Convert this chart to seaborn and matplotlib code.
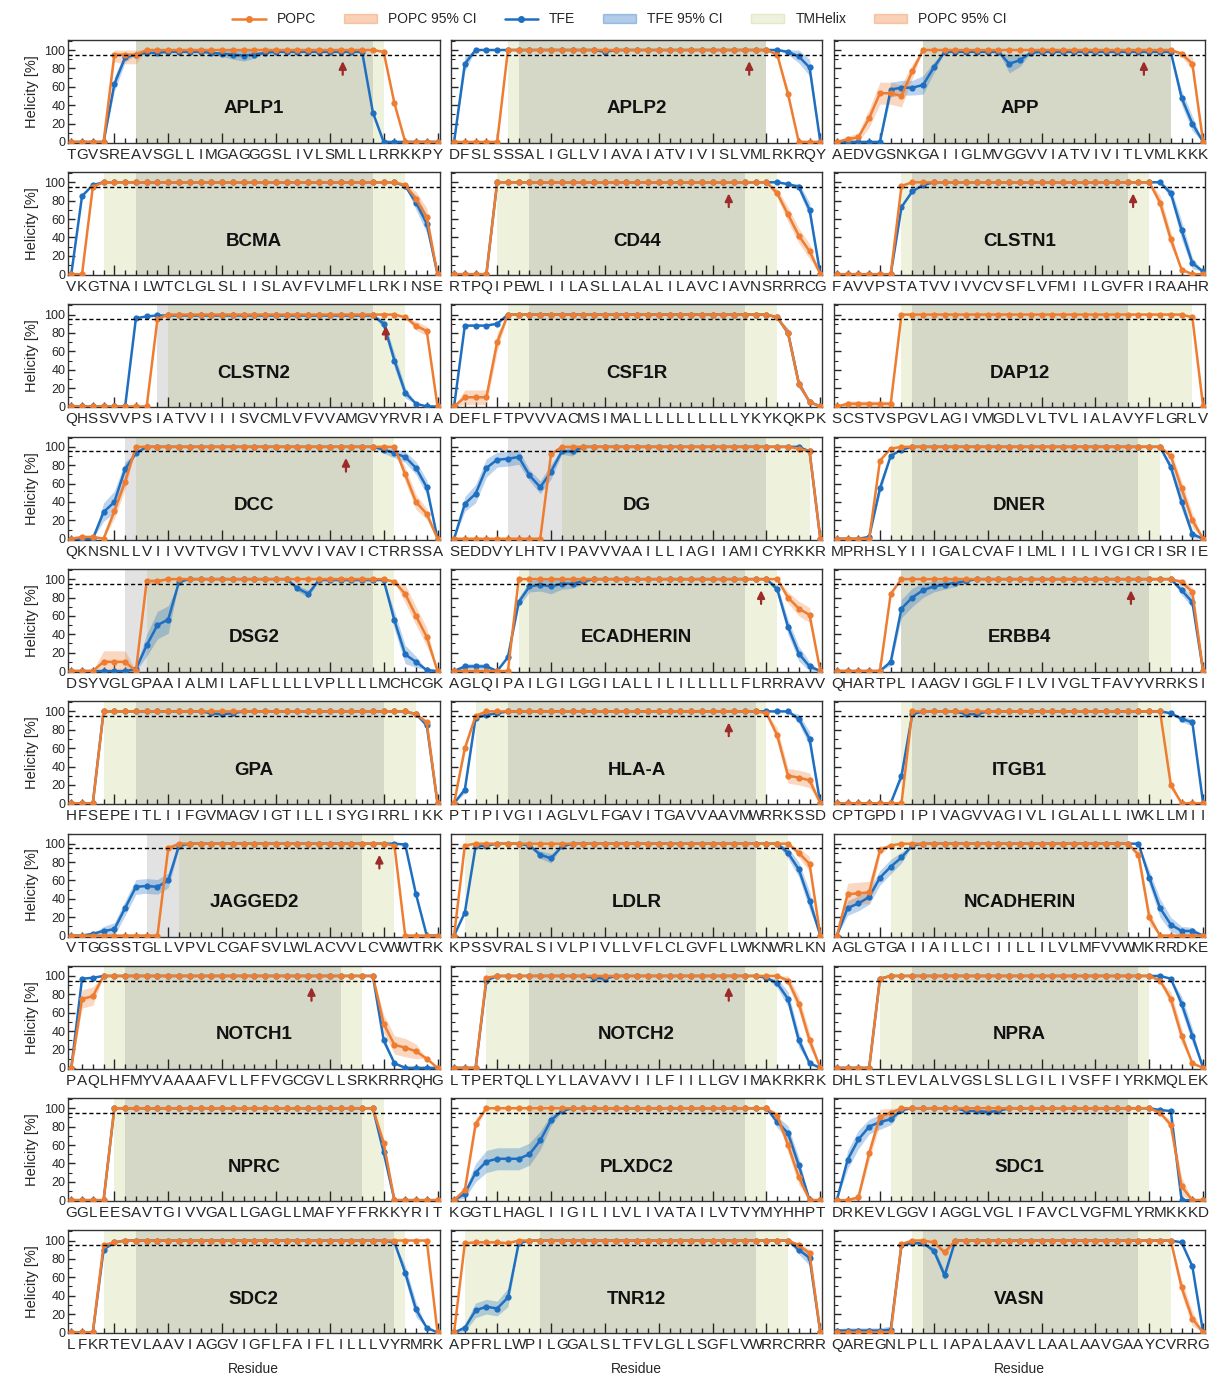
import matplotlib
matplotlib.use('Agg')
import matplotlib.pyplot as plt
from matplotlib.lines import Line2D
from matplotlib.patches import Patch
from matplotlib.ticker import MultipleLocator
import numpy as np
import pandas as pd
import seaborn as sns

# ---- data (one entry per residue) ----
NAMES = ['APLP1', 'APLP2', 'APP', 'BCMA', 'CD44', 'CLSTN1', 'CLSTN2', 'CSF1R', 'DAP12',
         'DCC', 'DG', 'DNER', 'DSG2', 'ECADHERIN', 'ERBB4', 'GPA', 'HLA-A', 'ITGB1',
         'JAGGED2', 'LDLR', 'NCADHERIN', 'NOTCH1', 'NOTCH2', 'NPRA', 'NPRC', 'PLXDC2',
         'SDC1', 'SDC2', 'TNR12', 'VASN']

SEQ = {
    'APLP1': 'TGVSREAVSGLLIMGAGGGSLIVLSMLLLRRKKPY',
    'APLP2': 'DFSLSSSALIGLLVIAVAIATVIVISLVMLRKRQY',
    'APP': 'AEDVGSNKGAIIGLMVGGVVIATVIVITLVMLKKK',
    'BCMA': 'VKGTNAILWTCLGLSLIISLAVFVLMFLLRKINSE',
    'CD44': 'RTPQIPEWLIILASLLALALILAVCIAVNSRRRCG',
    'CLSTN1': 'FAVVPSTATVVIVVCVSFLVFMIILGVFRIRAAHR',
    'CLSTN2': 'QHSSVVPSIATVVIIISVCMLVFVVAMGVYRVRIA',
    'CSF1R': 'DEFLFTPVVVACMSIMALLLLLLLLLLYKYKQKPK',
    'DAP12': 'SCSTVSPGVLAGIVMGDLVLTVLIALAVYFLGRLV',
    'DCC': 'QKNSNLLVIIVVTVGVITVLVVVIVAVICTRRSSA',
    'DG': 'SEDDVYLHTVIPAVVVAAILLIAGIIAMICYRKKR',
    'DNER': 'MPRHSLYIIIGALCVAFILMLIILIVGICRISRIE',
    'DSG2': 'DSYVGLGPAAIALMILAFLLLLLVPLLLLMCHCGK',
    'ECADHERIN': 'AGLQIPAILGILGGILALLILILLLLLFLRRRAVV',
    'ERBB4': 'QHARTPLIAAGVIGGLFILVIVGLTFAVYVRRKSI',
    'GPA': 'HFSEPEITLIIFGVMAGVIGTILLISYGIRRLIKK',
    'HLA-A': 'PTIPIVGIIAGLVLFGAVITGAVVAAVMWRRKSSD',
    'ITGB1': 'CPTGPDIIPIVAGVVAGIVLIGLALLLIWKLLMII',
    'JAGGED2': 'VTGGSSTGLLVPVLCGAFSVLWLACVVLCVWWTRK',
    'LDLR': 'KPSSVRALSIVLPIVLLVFLCLGVFLLWKNWRLKN',
    'NCADHERIN': 'AGLGTGAIIAILLCIIILLILVLMFVVWMKRRDKE',
    'NOTCH1': 'PAQLHFMYVAAAAFVLLFFVGCGVLLSRKRRRQHG',
    'NOTCH2': 'LTPERTQLLYLLAVAVVIILFIILLGVIMAKRKRK',
    'NPRA': 'DHLSTLEVLALVGSLSLLGILIVSFFIYRKMQLEK',
    'NPRC': 'GGLEESAVTGIVVGALLGAGLLMAFYFFRKKYRIT',
    'PLXDC2': 'KGGTLHAGLIIGILILVLIVATAILVTVYMYHHPT',
    'SDC1': 'DRKEVLGGVIAGGLVGLIFAVCLVGFMLYRMKKKD',
    'SDC2': 'LFKRTEVLAAVIAGGVIGFLFAIFLILLLVYRMRK',
    'TNR12': 'APFRLLWPILGGALSLTFVLGLLSGFLVWRRCRRR',
    'VASN': 'QAREGNLPLLIAPALAAVLLAALAAVGAAYCVRRG',
}

POPC = {
    'APLP1': [0, 0, 0, 0, 95, 95, 95] + [100] * 22 + [98, 42, 0, 0, 0, 0],
    'APLP2': [0] * 5 + [100] * 25 + [95, 52, 0, 0, 0],
    'APP': [0, 3, 5, 26, 53, 53, 50, 77] + [100] * 24 + [96, 85, 0],
    'BCMA': [0, 0, 95] + [100] * 28 + [97, 82, 62, 0],
    'CD44': [0] * 4 + [100] * 26 + [88, 65, 42, 25, 0],
    'CLSTN1': [0] * 6 + [96] + [100] * 23 + [78, 38, 5, 0, 0],
    'CLSTN2': [0] * 8 + [95] + [100] * 22 + [97, 88, 82, 0],
    'CSF1R': [0, 10, 10, 10, 70] + [100] * 25 + [97, 80, 25, 5, 0],
    'DAP12': [0, 3, 3, 3, 3, 3] + [100] * 27 + [97, 0],
    'DCC': [0, 2, 2, 0, 30, 62] + [100] * 25 + [70, 40, 27, 0],
    'DG': [0] * 9 + [92] + [100] * 22 + [98, 95, 0],
    'DNER': [0, 0, 0, 0, 85, 98] + [100] * 25 + [90, 55, 20, 0],
    'DSG2': [0, 0, 0, 10, 10, 10, 0, 98, 98] + [100] * 21 + [97, 84, 60, 37, 0],
    'ECADHERIN': [0] * 6 + [100] * 25 + [80, 68, 61, 0],
    'ERBB4': [0] * 5 + [84] + [100] * 26 + [97, 86, 0],
    'GPA': [0, 0, 0] + [100] * 29 + [97, 88, 0],
    'HLA-A': [0, 60, 95] + [100] * 26 + [98, 74, 30, 28, 25, 0],
    'ITGB1': [0] * 7 + [100] * 24 + [20, 0, 0, 0],
    'JAGGED2': [0] * 9 + [95] + [100] * 20 + [98, 0, 0, 0, 0],
    'LDLR': [0, 98] + [100] * 29 + [100, 90, 78, 0],
    'NCADHERIN': [0, 45, 46, 47, 93, 98] + [100] * 22 + [88, 20, 0, 0, 0, 0, 0],
    'NOTCH1': [0, 75, 78] + [100] * 26 + [48, 25, 22, 18, 10, 0],
    'NOTCH2': [0, 0, 0, 98] + [100] * 27 + [95, 70, 30, 0],
    'NPRA': [0] * 4 + [97] + [100] * 25 + [95, 75, 35, 5, 0],
    'NPRC': [0] * 4 + [100] * 25 + [62, 0, 0, 0, 0, 0],
    'PLXDC2': [0, 11, 83] + [100] * 27 + [92, 60, 25, 0, 0],
    'SDC1': [0, 0, 3, 51, 91, 95] + [100] * 24 + [95, 82, 15, 0, 0],
    'SDC2': [0, 0, 0, 95, 98] + [100] * 29 + [0],
    'TNR12': [0, 97, 98, 98, 98, 97] + [100] * 26 + [95, 86, 0],
    'VASN': [0] * 6 + [96, 100, 100, 98, 87] + [100] * 20 + [100, 49, 15, 0],
}

TFE = {
    'APLP1': [0] * 4 + [63, 92, 95] + [97, 97, 98, 98, 98, 98, 97, 96, 95, 94, 95, 97] + [98] * 9 + [32] + [0] * 6,
    'APLP2': [0, 85] + [100] * 12 + [98] + [100] * 16 + [98, 93, 81, 0],
    'APP': [0] * 5 + [57, 59, 59, 62, 81, 98] + [98] * 5 + [85, 89, 97] + [98] * 13 + [48, 20, 0],
    'BCMA': [0, 85, 97] + [100] * 28 + [96, 78, 55, 0],
    'CD44': [0] * 4 + [100] * 27 + [98, 95, 70, 0],
    'CLSTN1': [0] * 6 + [73, 90, 97] + [100] * 22 + [88, 48, 12, 3],
    'CLSTN2': [0] * 6 + [96, 98] + [99] * 21 + [90, 50, 15, 3, 0, 0],
    'CSF1R': [0, 88, 88, 88, 90] + [100] * 25 + [97, 80, 25, 5, 0],
    'DAP12': None,
    'DCC': [0, 0, 0, 29, 40, 76, 93] + [100] * 22 + [97, 93, 89, 77, 56, 0],
    'DG': [0, 38, 49, 77, 86, 87, 89, 69, 56, 73, 95, 95] + [100] * 20 + [100, 95, 0],
    'DNER': [0, 0, 0, 2, 55, 90, 97] + [100] * 24 + [78, 40, 5, 0],
    'DSG2': [0, 0, 0, 0, 0, 0, 2, 28, 50, 56, 97] + [100] * 10 + [90, 84] + [99] * 7 + [55, 18, 10, 1, 0],
    'ECADHERIN': [0, 5, 5, 5, 0, 15, 75, 92, 94, 92, 95, 95, 98] + [100] * 17 + [89, 48, 19, 5, 0],
    'ERBB4': [0] * 5 + [10, 68, 80, 88, 92, 94, 96, 98] + [100] * 19 + [88, 75, 0],
    'GPA': [0, 0, 0] + [100] * 10 + [98, 97, 98] + [100] * 16 + [97, 85, 0],
    'HLA-A': [0, 15, 93, 96, 98] + [100] * 27 + [92, 70, 0],
    'ITGB1': [0] * 6 + [30, 97] + [100] * 4 + [97, 97] + [100] * 17 + [98, 92, 88, 0],
    'JAGGED2': [0, 0, 2, 5, 7, 30, 53, 54, 53, 60, 98] + [100] * 20 + [99, 45, 0, 0],
    'LDLR': [0, 25, 97, 98, 100, 100, 100, 98, 88, 84, 97] + [100] * 20 + [90, 72, 38, 0],
    'NCADHERIN': [0, 30, 35, 42, 63, 75, 85, 98] + [100] * 21 + [63, 30, 12, 5, 5, 0],
    'NOTCH1': [0, 97, 98] + [100] * 26 + [30, 5, 0, 0, 0, 0],
    'NOTCH2': [0, 0, 0, 95] + [100] * 9 + [98, 97] + [100] * 14 + [98, 92, 75, 30, 5, 0],
    'NPRA': [0] * 4 + [97] + [100] * 26 + [97, 70, 35, 0],
    'NPRC': [0] * 4 + [100] * 25 + [52, 0, 0, 0, 0, 0],
    'PLXDC2': [0, 7, 30, 42, 45, 45, 45, 50, 65, 87, 97] + [100] * 19 + [85, 73, 38, 0, 0],
    'SDC1': [0, 44, 66, 80, 85, 88, 98] + [100] * 5 + [97, 97, 96, 97] + [100] * 14 + [98, 97, 0, 0, 0],
    'SDC2': [0, 0, 0, 90, 98] + [100] * 25 + [98, 65, 25, 5, 0],
    'TNR12': [0, 5, 24, 28, 26, 38, 97] + [100] * 25 + [90, 81, 0],
    'VASN': [2, 2, 2, 2, 2, 3, 95, 97, 97, 89, 62] + [100] * 21 + [98, 72, 0],
}

# 95% CI half widths (residue index: half width), zero elsewhere
POPC_CI = {
    'APLP1': {4: 8, 5: 10, 6: 10}, 'APLP2': {31: 6},
    'APP': {1: 3, 2: 5, 3: 10, 4: 12, 5: 12, 6: 12, 7: 8, 32: 3, 33: 7},
    'BCMA': {32: 8, 33: 10}, 'CD44': {30: 5, 31: 8, 32: 8, 33: 8}, 'CLSTN1': {30: 8, 31: 8},
    'CLSTN2': {32: 5, 33: 5}, 'CSF1R': {1: 8, 2: 8, 3: 8, 4: 10, 31: 5, 32: 5},
    'DAP12': {1: 3, 2: 3, 3: 3, 4: 3, 5: 3}, 'DCC': {4: 8, 5: 8, 31: 8, 32: 8, 33: 6},
    'DG': {}, 'DNER': {31: 5, 32: 8, 33: 8},
    'DSG2': {3: 12, 4: 12, 5: 12, 7: 3, 8: 3, 31: 10, 32: 10, 33: 10},
    'ECADHERIN': {31: 6, 32: 8, 33: 8}, 'ERBB4': {32: 3, 33: 5}, 'GPA': {33: 3},
    'HLA-A': {1: 5, 30: 8, 31: 8, 32: 8, 33: 8}, 'ITGB1': {31: 5}, 'JAGGED2': {9: 4},
    'LDLR': {32: 5, 33: 8}, 'NCADHERIN': {1: 12, 2: 12, 3: 12, 4: 5, 28: 5, 29: 8},
    'NOTCH1': {1: 10, 2: 10, 29: 10, 30: 10, 31: 10, 32: 8}, 'NOTCH2': {31: 5, 32: 8, 33: 8},
    'NPRA': {31: 8, 32: 8}, 'NPRC': {29: 5}, 'PLXDC2': {1: 5, 2: 6, 30: 4, 31: 8, 32: 8},
    'SDC1': {2: 3, 3: 8, 4: 8, 5: 5, 31: 5, 32: 10}, 'SDC2': {}, 'TNR12': {32: 3, 33: 4},
    'VASN': {10: 4, 32: 8, 33: 8},
}
TFE_CI = {
    'APLP1': {4: 8, 5: 5, 14: 3, 15: 5, 16: 6, 17: 4}, 'APLP2': {1: 8, 31: 3, 32: 7, 33: 9},
    'APP': {5: 8, 6: 8, 7: 8, 8: 10, 9: 6, 16: 10, 17: 7, 32: 8, 33: 8},
    'BCMA': {32: 8, 33: 10}, 'CD44': {32: 4, 33: 8}, 'CLSTN1': {31: 6, 32: 10, 33: 6},
    'CLSTN2': {29: 5, 30: 8, 31: 6}, 'CSF1R': {31: 5, 32: 5}, 'DAP12': {},
    'DCC': {3: 10, 4: 12, 5: 8, 29: 4, 30: 5, 31: 6, 32: 7, 33: 8},
    'DG': {1: 8, 2: 10, 3: 10, 4: 8, 5: 8, 6: 8, 7: 6, 8: 7, 9: 8, 10: 3, 11: 5},
    'DNER': {4: 6, 31: 5, 32: 8, 33: 4},
    'DSG2': {6: 3, 7: 12, 8: 15, 9: 15, 21: 3, 22: 4, 30: 10, 31: 10, 32: 6},
    'ECADHERIN': {1: 3, 2: 3, 3: 3, 6: 5, 7: 6, 8: 7, 9: 8, 10: 6, 11: 5, 12: 3,
                  30: 5, 31: 8, 32: 8, 33: 5},
    'ERBB4': {5: 4, 6: 10, 7: 10, 8: 8, 9: 6, 10: 5, 11: 4, 32: 5, 33: 6},
    'GPA': {14: 2, 33: 4}, 'HLA-A': {1: 4, 32: 5, 33: 8}, 'ITGB1': {6: 4, 32: 3, 33: 4},
    'JAGGED2': {3: 5, 4: 7, 5: 8, 6: 8, 7: 8, 8: 8, 9: 8, 10: 3},
    'LDLR': {8: 4, 9: 5, 31: 6, 32: 8, 33: 10},
    'NCADHERIN': {1: 8, 2: 8, 3: 8, 4: 8, 5: 8, 6: 6, 29: 8, 30: 10, 31: 8, 32: 5, 33: 4},
    'NOTCH1': {29: 5}, 'NOTCH2': {30: 5, 31: 8, 32: 8}, 'NPRA': {32: 8, 33: 8}, 'NPRC': {29: 5},
    'PLXDC2': {1: 5, 2: 10, 3: 12, 4: 12, 5: 12, 6: 12, 7: 12, 8: 10, 9: 6, 30: 6, 31: 8, 32: 8},
    'SDC1': {1: 10, 2: 10, 3: 8, 4: 8, 5: 6, 14: 3}, 'SDC2': {31: 8, 32: 8},
    'TNR12': {1: 4, 2: 8, 3: 8, 4: 8, 5: 10, 32: 5, 33: 8},
    'VASN': {0: 2, 1: 3, 2: 3, 3: 3, 4: 3, 5: 4, 9: 4, 10: 5},
}

# residue index ranges of the shaded regions
TM_HELIX = {
    'APLP1': (6, 29), 'APLP2': (5, 29), 'APP': (8, 31), 'BCMA': (3, 31), 'CD44': (4, 30),
    'CLSTN1': (6, 29), 'CLSTN2': (9, 31), 'CSF1R': (5, 30), 'DAP12': (6, 33), 'DCC': (6, 30),
    'DG': (10, 33), 'DNER': (5, 30), 'DSG2': (7, 30), 'ECADHERIN': (6, 30), 'ERBB4': (6, 31),
    'GPA': (3, 32), 'HLA-A': (2, 29), 'ITGB1': (6, 31), 'JAGGED2': (10, 30), 'LDLR': (1, 31),
    'NCADHERIN': (5, 27), 'NOTCH1': (3, 27), 'NOTCH2': (3, 30), 'NPRA': (4, 29), 'NPRC': (4, 29),
    'PLXDC2': (3, 29), 'SDC1': (5, 29), 'SDC2': (3, 31), 'TNR12': (1, 31), 'VASN': (7, 31),
}
GRAY_SPAN = {
    'APLP1': (6, 28), 'APLP2': (6, 29), 'APP': (8, 31), 'BCMA': (6, 28), 'CD44': (7, 27),
    'CLSTN1': (7, 27), 'CLSTN2': (8, 28), 'CSF1R': (7, 27), 'DAP12': (7, 27), 'DCC': (5, 28),
    'DG': (5, 29), 'DNER': (7, 28), 'DSG2': (5, 28), 'ECADHERIN': (7, 27), 'ERBB4': (6, 29),
    'GPA': (6, 29), 'HLA-A': (5, 28), 'ITGB1': (7, 28), 'JAGGED2': (7, 27), 'LDLR': (6, 28),
    'NCADHERIN': (7, 27), 'NOTCH1': (5, 25), 'NOTCH2': (7, 27), 'NPRA': (7, 28), 'NPRC': (5, 27),
    'PLXDC2': (7, 27), 'SDC1': (7, 27), 'SDC2': (6, 30), 'TNR12': (8, 28), 'VASN': (8, 28),
}
ARROWS = {
    'APLP1': 25.2, 'APLP2': 27.4, 'APP': 28.5, 'CD44': 25.5, 'CLSTN1': 27.5, 'CLSTN2': 29.2,
    'DCC': 25.5, 'ECADHERIN': 28.5, 'ERBB4': 27.3, 'HLA-A': 25.5, 'JAGGED2': 28.6,
    'NOTCH1': 22.3, 'NOTCH2': 25.5,
}

ORANGE = '#ee7d31'
BLUE = '#1f6fc1'
YELLOW = '#eef2dc'
ARROW_RED = '#9e2b2b'

sns.set_style('ticks')
plt.rcParams['font.family'] = ['Liberation Sans', 'DejaVu Sans']


def draw_panel(ax, name, col, last_row):
    seq = SEQ[name]
    idx = np.arange(len(seq))
    ax.axvspan(*TM_HELIX[name], color=YELLOW, lw=0, zorder=0)
    ax.axvspan(*GRAY_SPAN[name], color='#7f7f7f', alpha=0.22, lw=0, zorder=0.5)

    for vals, cis, color in [(TFE, TFE_CI, BLUE), (POPC, POPC_CI, ORANGE)]:
        y = vals[name]
        if y is None:
            continue
        assert len(y) == len(seq), name
        y = np.array(y, dtype=float)
        half = np.array([cis[name].get(i, 0) for i in idx], dtype=float)
        ax.fill_between(idx, np.clip(y - half, 0, 100), np.clip(y + half, 0, 100),
                        color=color, alpha=0.3, lw=0, zorder=1)
        df = pd.DataFrame({'residue': idx, 'helicity': y})
        sns.lineplot(data=df, x='residue', y='helicity', ax=ax, color=color, marker='o',
                     markersize=4.5, markeredgewidth=0, lw=1.8, zorder=3)

    ax.axhline(95, color='black', ls='--', lw=1, dashes=(3, 2), zorder=4)
    if name in ARROWS:
        ax.annotate('', xy=(ARROWS[name], 91), xytext=(ARROWS[name], 70),
                    arrowprops=dict(arrowstyle='-|>,head_width=0.22,head_length=0.45',
                                    color=ARROW_RED, lw=1.6), zorder=5)
    ax.text(0.5, 36, name, transform=ax.get_yaxis_transform(), ha='center', va='center',
            fontsize=13.5, fontweight='bold', color='#111111', zorder=6)

    ax.set_xlim(-0.3, len(seq) - 0.8)
    ax.set_ylim(-1, 111)
    ax.set_xticks(idx)
    ax.set_xticklabels(list(seq), fontsize=11)
    ax.tick_params(axis='x', direction='in', length=3.5, width=1, pad=3.5)
    for i, t in enumerate(ax.xaxis.get_major_ticks()):
        if i % 5 == 4:
            t.tick1line.set_markersize(7)
    ax.set_yticks(range(0, 101, 20))
    ax.yaxis.set_minor_locator(MultipleLocator(10))
    ax.tick_params(axis='y', which='major', direction='in', length=5, width=1,
                   labelsize=9, labelleft=(col == 0), pad=2)
    ax.tick_params(axis='y', which='minor', direction='in', length=3, width=0.8)
    ax.set_ylabel('Helicity [%]' if col == 0 else '', fontsize=10.5, labelpad=4)
    ax.set_xlabel('Residue' if last_row else '', fontsize=10, labelpad=7)
    for s in ax.spines.values():
        s.set_color('#333333')
        s.set_linewidth(1)


fig, axes = plt.subplots(10, 3, figsize=(12.15, 13.76), dpi=100)
fig.subplots_adjust(left=0.056, right=0.992, top=0.971, bottom=0.031, wspace=0.03, hspace=0.285)

for k, name in enumerate(NAMES):
    r, c = divmod(k, 3)
    draw_panel(axes[r, c], name, c, r == 9)

handles = [
    Line2D([0], [0], color=ORANGE, marker='o', markersize=4, lw=1.8),
    Patch(facecolor=ORANGE, alpha=0.35, edgecolor=ORANGE),
    Line2D([0], [0], color=BLUE, marker='o', markersize=4, lw=1.8),
    Patch(facecolor=BLUE, alpha=0.35, edgecolor=BLUE),
    Patch(facecolor=YELLOW, edgecolor='#e2e8c8'),
    Patch(facecolor=ORANGE, alpha=0.35, edgecolor=ORANGE),
]
labels = ['POPC', 'POPC 95% CI', 'TFE', 'TFE 95% CI', 'TMHelix', 'POPC 95% CI']
fig.legend(handles, labels, loc='upper center', bbox_to_anchor=(0.51, 1.0), ncol=6,
           frameon=False, fontsize=10, handlelength=2.4, columnspacing=2.0)

fig.savefig('out.png', dpi=100)
